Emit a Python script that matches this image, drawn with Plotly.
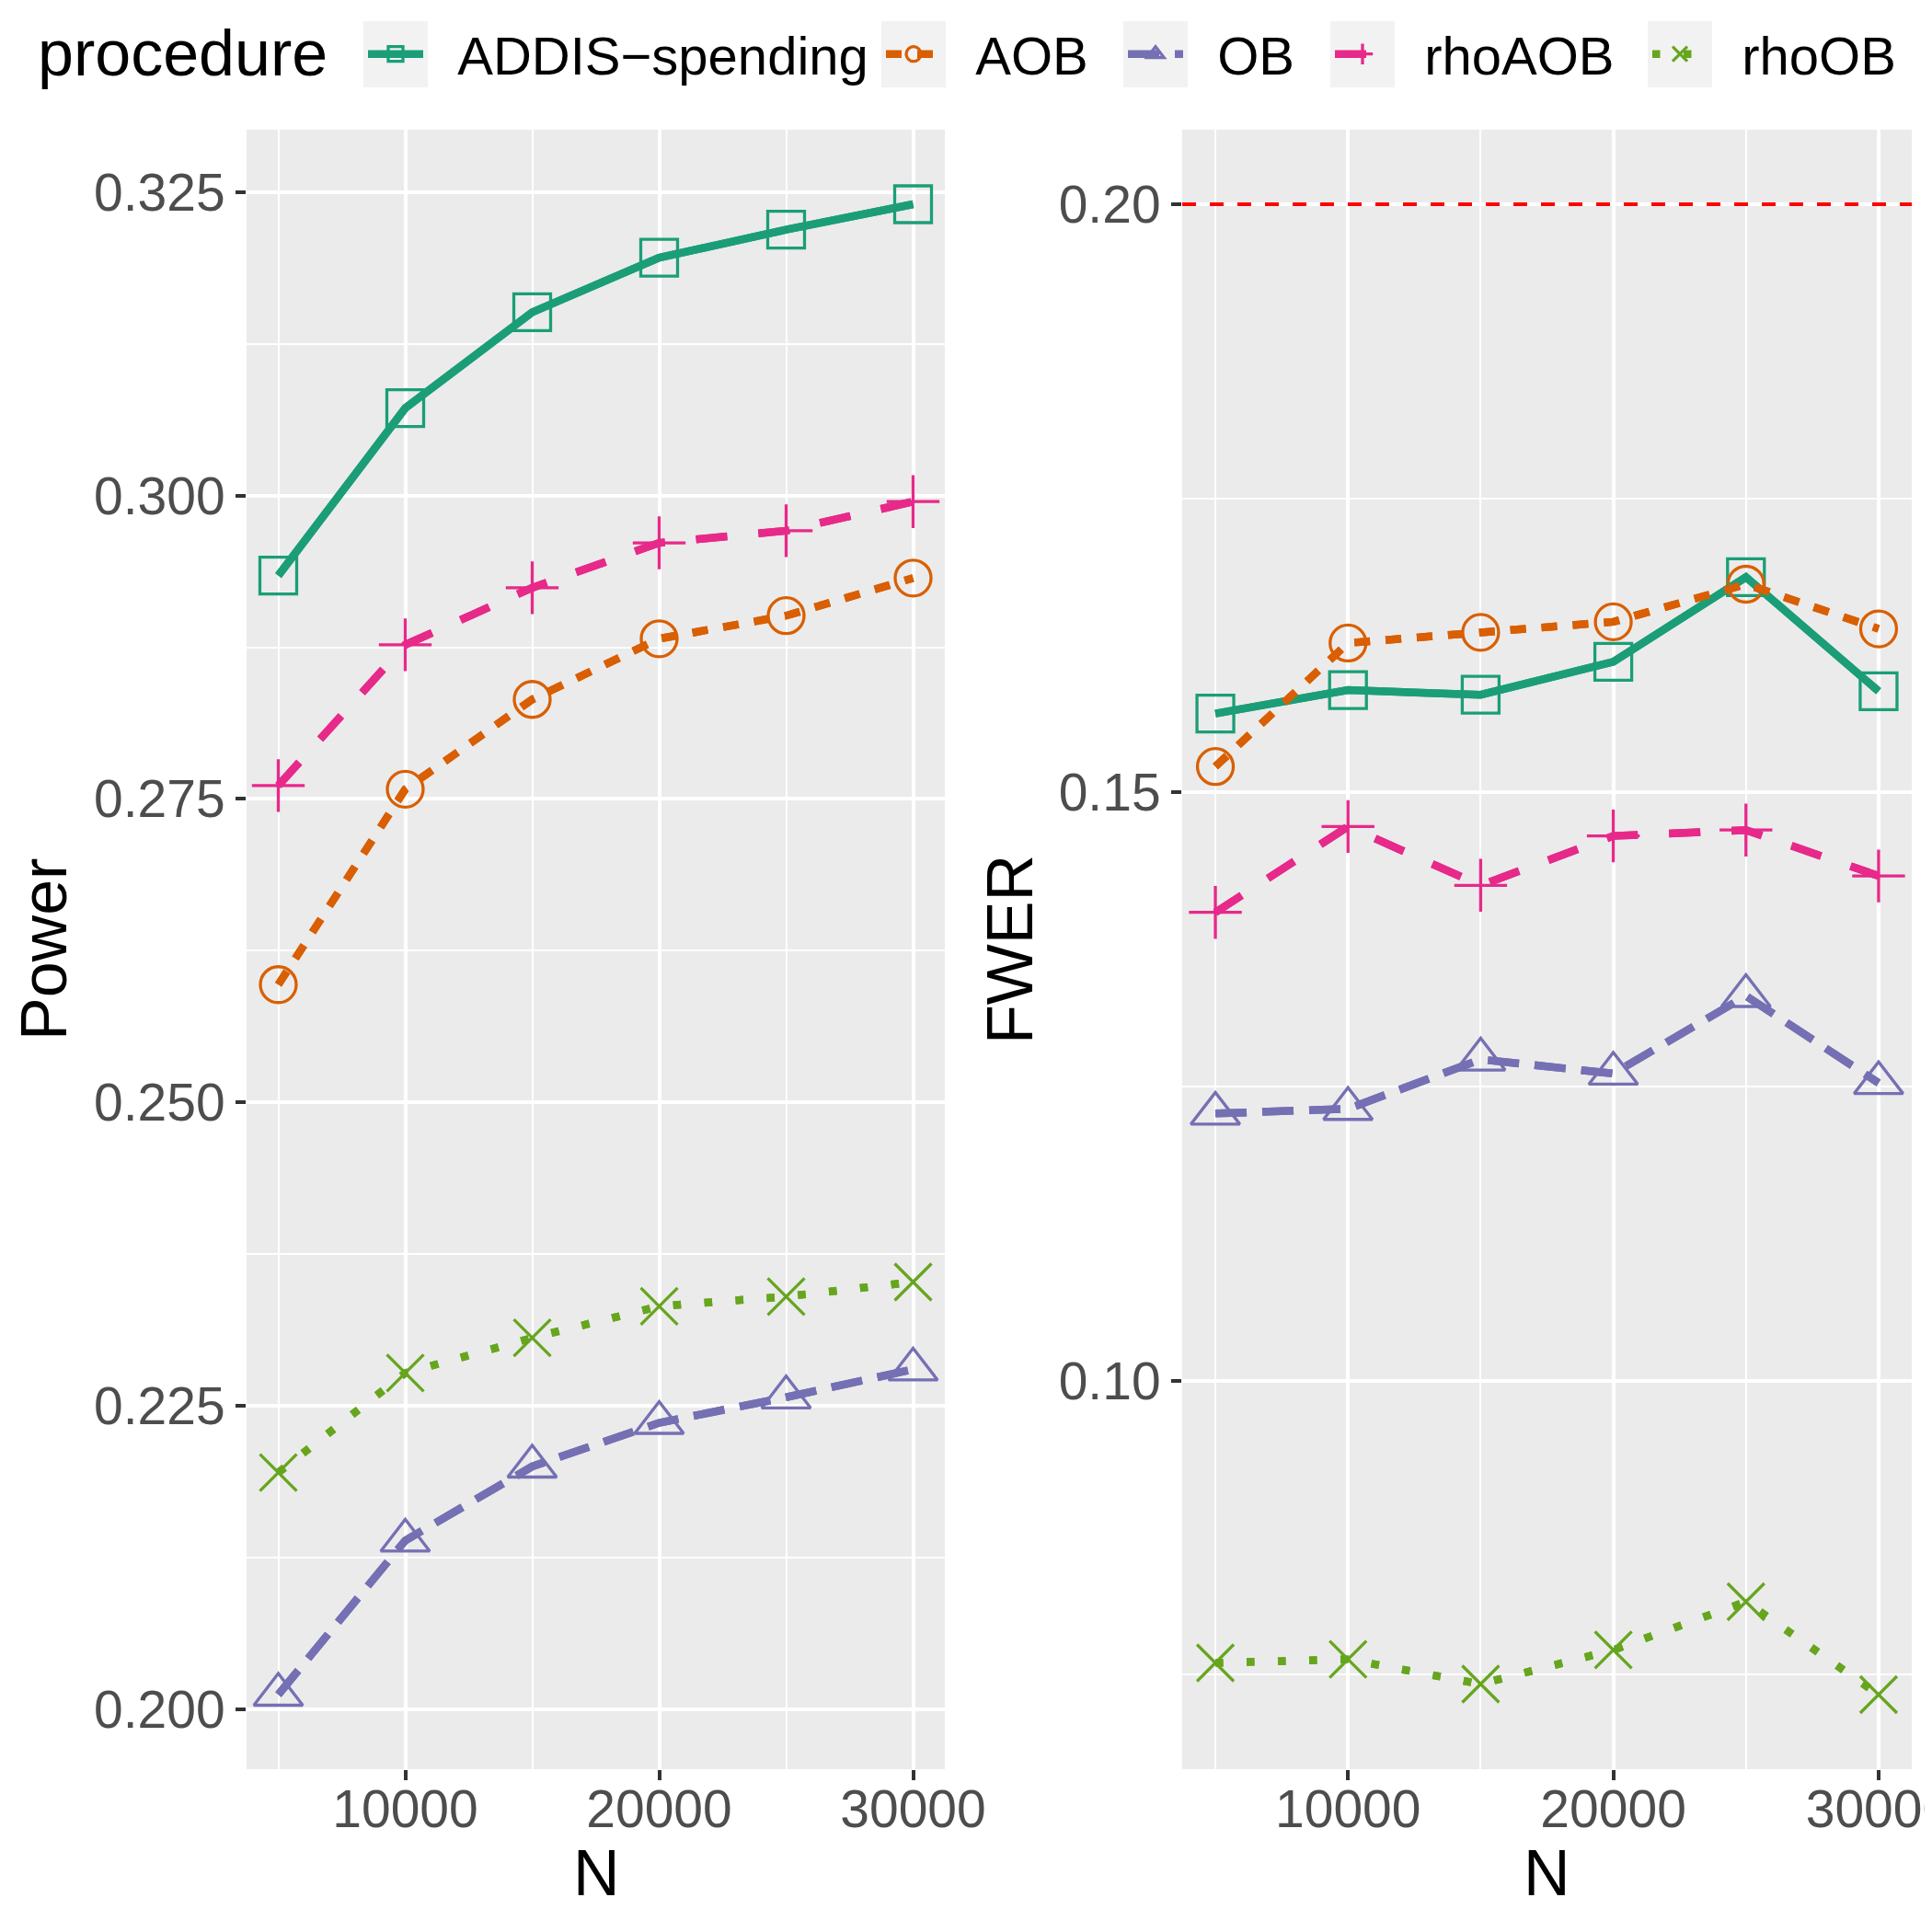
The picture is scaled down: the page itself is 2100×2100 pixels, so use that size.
import plotly.graph_objects as go

# ---------------- data ----------------
N = [5000, 10000, 15000, 20000, 25000, 30000]
procedures = ["ADDIS−spending", "AOB", "OB", "rhoAOB", "rhoOB"]

power_addis = [0.2934, 0.3072, 0.3151, 0.3196, 0.3219, 0.3240]
power_aob = [0.2597, 0.2758, 0.2832, 0.2882, 0.2901, 0.2932]
power_ob = [0.2012, 0.2139, 0.2200, 0.2236, 0.2257, 0.2280]
power_rhoaob = [0.2761, 0.2877, 0.2924, 0.2961, 0.2971, 0.2995]
power_rhoob = [0.2195, 0.2277, 0.2306, 0.2332, 0.2340, 0.2352]

fwer_addis = [0.1567, 0.1587, 0.1583, 0.1611, 0.1683, 0.1586]
fwer_aob = [0.1522, 0.1627, 0.1636, 0.1645, 0.1677, 0.1639]
fwer_ob = [0.1227, 0.1231, 0.1273, 0.1261, 0.1327, 0.1253]
fwer_rhoaob = [0.1398, 0.1471, 0.1421, 0.1463, 0.1468, 0.1429]
fwer_rhoob = [0.0760, 0.0763, 0.0742, 0.0771, 0.0812, 0.0733]

alpha = 0.2

power_ticks = [0.200, 0.225, 0.250, 0.275, 0.300, 0.325]
power_minor = [0.2125, 0.2375, 0.2625, 0.2875, 0.3125]
fwer_ticks = [0.10, 0.15, 0.20]
fwer_minor = [0.075, 0.125, 0.175]
n_ticks = [10000, 20000, 30000]
n_minor = [5000, 15000, 25000]

power = [power_addis, power_aob, power_ob, power_rhoaob, power_rhoob]
fwer = [fwer_addis, fwer_aob, fwer_ob, fwer_rhoaob, fwer_rhoob]

# ---------------- style ----------------
W = 2084  # page body has an 8px margin inside the 2100px window
FONT = "Liberation Sans"
colors = ["#1B9E77", "#D95F02", "#7570B3", "#E7298A", "#66A61E"]
symbols = ["square-open", "circle-open", "triangle-up-open", "cross-thin-open", "x-thin-open"]
msizes = [40, 39, 46, 41, 40]
LW = 8.5
dashes = ["solid",
          f"{2*LW}px,{2*LW}px",
          f"{4*LW}px,{2*LW}px",
          f"{4*LW}px,{4*LW}px",
          f"{1*LW}px,{3*LW}px"]
legend_names = ["legend", "legend2", "legend3", "legend4", "legend5"]
LEGEND_PAD = "\u00a0\u00a0"  # gap between legend key and its label


def expand(vals, extra=()):
    allv = [v for s in vals for v in s] + list(extra)
    lo, hi = min(allv), max(allv)
    d = (hi - lo) * 0.05
    return [lo - d, hi + d]


fig = go.Figure()

for panel, (data, xa, ya) in enumerate([(power, "x", "y"), (fwer, "x2", "y2")]):
    # points (with their line) first
    for i, name in enumerate(procedures):
        fig.add_trace(go.Scatter(
            x=N, y=data[i], name=LEGEND_PAD + name, mode="lines+markers",
            xaxis=xa, yaxis=ya,
            legendgroup=name, showlegend=(panel == 0),
            legend=legend_names[i],
            line=dict(color=colors[i], width=LW, dash=dashes[i]),
            marker=dict(symbol=symbols[i], size=msizes[i], color=colors[i],
                        line=dict(width=3.3, color=colors[i])),
        ))
    # lines drawn on top of points (as in the original)
    for i, name in enumerate(procedures):
        fig.add_trace(go.Scatter(
            x=N, y=data[i], mode="lines", xaxis=xa, yaxis=ya,
            legendgroup=name, showlegend=False, hoverinfo="skip",
            line=dict(color=colors[i], width=LW, dash=dashes[i]),
        ))

x_range = [N[0] - 0.05 * (N[-1] - N[0]), N[-1] + 0.05 * (N[-1] - N[0])]

axis_common = dict(
    showgrid=True, gridcolor="white", gridwidth=3.6,
    zeroline=False, showline=False,
    ticks="outside", ticklen=11, tickwidth=3.6, tickcolor="#333333",
    tickfont=dict(family=FONT, size=57, color="#4D4D4D"),
    automargin=False,
)
minor_common = dict(tickmode="array", showgrid=True, gridcolor="white", gridwidth=1.8, ticks="")

ydom = [1 - 1915 / W, 1 - 133 / W]
fig.update_layout(
    width=W, height=W,
    margin=dict(l=0, r=0, t=0, b=0),
    paper_bgcolor="white", plot_bgcolor="#EBEBEB",
    font=dict(family=FONT, color="black"),
    xaxis=dict(domain=[260 / W, 1019 / W], anchor="y", range=x_range,
               tickmode="array", tickvals=n_ticks, ticktext=[str(v) for v in n_ticks],
               ticklabelstandoff=-17, ticklabeloverflow="allow",
               minor=dict(tickvals=n_minor, **minor_common),
               **axis_common),
    yaxis=dict(domain=ydom, anchor="x", range=expand(power),
               tickmode="array", tickvals=power_ticks,
               ticktext=[f"{v:.3f}" for v in power_ticks],
               minor=dict(tickvals=power_minor, **minor_common),
               **axis_common),
    xaxis2=dict(domain=[1277 / W, 2070 / W], anchor="y2", range=x_range,
                tickmode="array", tickvals=n_ticks, ticktext=[str(v) for v in n_ticks],
                ticklabelstandoff=-17, ticklabeloverflow="allow",
                minor=dict(tickvals=n_minor, **minor_common),
                **axis_common),
    yaxis2=dict(domain=ydom, anchor="x2", range=expand(fwer, [alpha]),
                tickmode="array", tickvals=fwer_ticks,
                ticktext=[f"{v:.2f}" for v in fwer_ticks],
                minor=dict(tickvals=fwer_minor, **minor_common),
                **axis_common),
    showlegend=True,
)

# reference line alpha on FWER panel
fig.add_shape(type="line", xref="x2 domain", yref="y2", x0=0, x1=1, y0=alpha, y1=alpha,
              line=dict(color="#FF0000", width=4, dash="15px,15px"), layer="above")

# legends (one per entry so the spacing follows the original)
key_centers = [422, 985, 1248, 1473, 1818]
legend_y = 1 - 51 / W
for i, ln in enumerate(legend_names):
    fig.update_layout({ln: dict(
        orientation="h", xanchor="left", yanchor="middle", y=legend_y,
        x=(key_centers[i] - 35) / W,
        bgcolor="rgba(0,0,0,0)", borderwidth=0, itemwidth=60,
        font=dict(family=FONT, size=58, color="black"),
        itemclick=False, itemdoubleclick=False)})

# legend key backgrounds
for c in key_centers:
    fig.add_shape(type="rect", xref="paper", yref="paper",
                  x0=(c - 35) / W, x1=(c + 35) / W, y0=1 - 87 / W, y1=1 - 15 / W,
                  fillcolor="#F2F2F2", line=dict(width=0), layer="below")

# legend title
fig.add_annotation(text="procedure", x=31 / W, y=1 - 50 / W, xref="paper", yref="paper",
                   showarrow=False, xanchor="left", yanchor="middle",
                   font=dict(family=FONT, size=70, color="black"))

# axis titles
title_font = dict(family=FONT, size=70, color="black")
ymid = (ydom[0] + ydom[1]) / 2
fig.add_annotation(text="Power", x=40 / W, y=ymid, xref="paper", yref="paper",
                   textangle=-90, showarrow=False, xanchor="center", yanchor="middle", font=title_font)
fig.add_annotation(text="FWER", x=1090 / W, y=ymid, xref="paper", yref="paper",
                   textangle=-90, showarrow=False, xanchor="center", yanchor="middle", font=title_font)
fig.add_annotation(text="N", x=640 / W, y=1 - 2028 / W, xref="paper", yref="paper",
                   showarrow=False, xanchor="center", yanchor="middle", font=title_font)
fig.add_annotation(text="N", x=1673 / W, y=1 - 2028 / W, xref="paper", yref="paper",
                   showarrow=False, xanchor="center", yanchor="middle", font=title_font)

fig.write_html("out.html")
